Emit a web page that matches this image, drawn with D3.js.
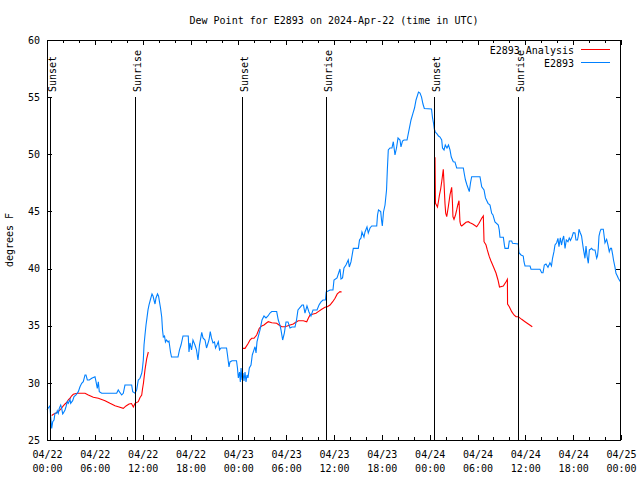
<!DOCTYPE html>
<html>
<head>
<meta charset="utf-8">
<script src="https://cdn.jsdelivr.net/npm/d3@7"></script>
<style>
  html, body { margin: 0; padding: 0; background: #fff; }
  svg { display: block; }
  text { font-family: "DejaVu Sans Mono", "Liberation Mono", monospace; font-size: 10px; fill: #000; }
</style>
</head>
<body>
<svg id="chart" width="640" height="480"></svg>
<script>
// ---- Data (hours after 2024-04-22 00:00 UTC, dew point in °F) ----
const chartTitle = "Dew Point for E2893 on 2024-Apr-22 (time in UTC)";
const yLabel = "degrees F";
const seriesNames = ["E2893 Analysis", "E2893"];
const yTicks = [25, 30, 35, 40, 45, 50, 55, 60];
const sunLabels = ["Sunset", "Sunrise", "Sunset", "Sunrise", "Sunset", "Sunrise"];
const sunHours = [0.38, 11.08, 24.5, 35.03, 48.58, 59.12];

const observed = [[0.00,27.63],[0.16,27.8],[0.38,28.0],[0.46,27.04],[0.59,26.02],[0.72,26.6],[0.88,26.75],[1.00,27.34],[1.22,27.34],[1.29,27.56],[1.42,27.34],[1.54,27.77],[1.72,28.06],[1.84,27.77],[1.97,27.28],[2.04,27.34],[2.26,27.63],[2.38,27.91],[2.55,28.35],[2.67,28.21],[2.89,28.56],[2.97,28.21],[3.22,28.44],[3.39,28.79],[3.64,28.94],[3.93,29.23],[4.14,29.66],[4.35,29.96],[4.55,30.1],[4.77,30.69],[4.89,30.69],[5.06,30.25],[5.31,30.25],[5.61,30.4],[6.02,30.54],[6.15,30.1],[6.31,29.52],[6.44,30.1],[6.56,29.23],[6.86,29.09],[8.74,29.09],[8.94,29.38],[9.16,29.14],[9.37,28.94],[9.57,29.09],[9.78,29.81],[10.62,29.81],[10.75,29.23],[11.04,29.09],[11.25,29.38],[11.45,30.25],[11.67,30.4],[11.88,30.84],[11.95,31.13],[12.08,32.0],[12.17,33.31],[12.29,34.19],[12.42,35.06],[12.54,35.68],[12.67,36.38],[12.79,36.81],[12.96,37.25],[13.17,37.78],[13.3,37.6],[13.42,37.25],[13.55,36.9],[13.67,37.43],[13.86,37.78],[13.99,37.6],[14.11,37.08],[14.24,36.55],[14.39,35.76],[14.49,34.63],[14.59,34.01],[14.74,34.1],[14.86,33.58],[14.99,33.75],[15.18,33.58],[15.3,33.66],[15.49,32.7],[15.62,32.26],[16.43,32.26],[16.62,32.88],[16.81,33.31],[17.06,34.1],[17.72,34.1],[17.81,32.7],[17.94,33.49],[18.13,32.88],[18.31,33.75],[18.56,33.31],[18.75,32.88],[18.94,32.0],[19.13,33.31],[19.41,34.41],[19.57,33.93],[19.82,33.75],[20.01,33.05],[20.13,33.31],[20.32,33.75],[20.48,34.48],[20.63,33.93],[20.82,33.49],[21.01,33.58],[21.14,33.05],[21.32,33.31],[21.49,33.6],[21.64,32.88],[21.83,33.05],[22.52,33.05],[22.64,32.44],[22.83,31.39],[22.95,31.83],[23.21,31.94],[23.77,31.94],[23.89,31.3],[24.0,30.43],[24.15,30.95],[24.25,30.08],[24.34,31.3],[24.46,30.25],[24.59,30.86],[24.71,30.16],[24.84,30.95],[24.96,30.08],[25.09,30.69],[25.21,30.43],[25.38,31.3],[25.59,31.56],[25.75,32.44],[25.96,32.88],[26.09,33.16],[26.22,32.61],[26.34,33.58],[26.5,34.04],[26.72,34.63],[26.84,35.06],[26.97,35.5],[27.22,35.85],[27.47,35.68],[27.72,35.85],[27.97,36.11],[28.19,36.24],[28.81,36.24],[29.01,35.5],[29.22,35.06],[29.35,34.63],[29.56,33.75],[29.77,34.36],[29.98,35.33],[30.23,35.33],[30.48,34.8],[30.73,34.89],[31.11,34.89],[31.3,35.5],[31.48,36.38],[31.99,36.81],[32.17,36.81],[32.36,36.11],[32.61,36.73],[32.86,36.2],[33.11,35.85],[33.37,36.38],[33.87,36.38],[34.12,36.81],[34.37,37.08],[34.62,37.25],[34.93,37.25],[35.02,37.95],[35.5,38.13],[35.87,38.13],[36.0,39.0],[36.38,39.18],[36.75,39.96],[36.88,39.09],[37.07,39.18],[37.25,40.05],[37.5,40.31],[37.79,40.75],[37.92,40.14],[38.13,40.58],[38.42,41.77],[39.05,41.77],[39.2,42.5],[39.39,42.68],[39.51,43.2],[39.76,42.76],[39.89,43.2],[40.14,43.64],[40.3,43.11],[40.52,43.55],[40.73,43.73],[41.36,43.73],[41.46,44.69],[41.58,45.13],[41.86,44.98],[41.96,44.25],[42.06,43.73],[42.21,44.95],[42.4,45.56],[42.59,46.88],[42.69,48.63],[42.81,50.38],[43.02,50.55],[43.27,50.55],[43.44,51.1],[43.65,49.94],[43.84,50.55],[44.03,51.43],[44.28,51.25],[44.4,50.64],[44.59,51.16],[44.78,51.25],[45.16,51.25],[45.45,52.27],[45.66,53.0],[45.91,53.61],[46.1,54.05],[46.29,54.75],[46.6,55.45],[46.79,55.36],[46.98,55.01],[47.16,54.4],[47.33,54.01],[48.23,53.96],[48.36,53.18],[48.48,52.74],[48.58,52.21],[48.71,51.95],[48.92,51.78],[49.11,51.6],[49.3,51.51],[49.51,51.25],[49.61,50.55],[49.8,50.38],[49.96,50.81],[50.17,50.55],[50.36,50.81],[50.55,50.38],[50.71,49.76],[50.96,49.35],[51.17,49.33],[51.39,48.8],[52.22,48.8],[52.37,48.19],[52.49,47.75],[52.68,47.31],[52.97,46.73],[53.12,47.49],[53.27,48.04],[54.31,48.04],[54.53,47.16],[54.82,46.88],[55.0,46.18],[55.32,45.71],[55.57,45.56],[55.78,44.84],[55.94,44.69],[56.19,44.08],[56.61,43.81],[56.73,43.38],[56.82,42.74],[57.24,42.74],[57.39,41.98],[57.45,41.77],[57.86,41.77],[57.99,42.41],[58.29,42.41],[58.39,42.21],[59.12,42.15],[59.2,41.39],[59.46,41.19],[59.74,41.1],[59.83,40.6],[59.96,40.23],[60.59,40.23],[60.71,39.94],[61.84,39.94],[62.05,39.64],[62.22,39.64],[62.38,40.31],[62.59,40.4],[62.84,40.11],[63.09,40.51],[63.28,40.23],[63.41,40.9],[63.59,41.48],[63.72,42.06],[63.93,42.26],[64.09,42.65],[64.22,41.91],[64.39,42.68],[64.54,42.06],[64.66,42.5],[64.81,42.85],[64.98,41.77],[65.14,42.5],[65.35,42.35],[65.51,42.68],[65.66,42.46],[65.85,42.76],[66.02,43.14],[66.23,43.11],[66.35,42.5],[66.54,42.5],[66.64,42.85],[66.73,43.44],[66.9,43.11],[67.05,42.85],[67.27,41.77],[67.48,40.9],[67.61,41.98],[67.74,41.1],[67.9,40.46],[68.03,41.63],[68.17,41.69],[68.3,41.77],[68.49,41.63],[68.74,41.63],[68.95,40.9],[69.05,41.1],[69.15,41.77],[69.24,42.85],[69.37,43.23],[69.49,43.44],[69.78,43.44],[69.87,42.94],[69.99,42.26],[70.2,42.56],[70.37,42.06],[70.53,41.48],[70.68,41.77],[70.81,41.77],[70.96,41.19],[71.06,40.75],[71.25,40.11],[71.37,39.59],[71.54,39.35],[71.66,39.15],[71.79,39.0],[71.94,38.83]];

const analysisNight1 = [[0.59,27.13],[0.75,27.23],[1.07,27.34],[1.42,27.49],[1.63,27.63],[1.84,27.8],[2.04,27.98],[2.26,28.15],[2.47,28.28],[2.7,28.54],[2.89,28.65],[3.07,28.85],[3.3,29.0],[3.64,29.07],[3.93,29.09],[4.77,29.09],[5.18,28.94],[5.81,28.74],[6.44,28.65],[7.28,28.44],[7.9,28.21],[8.53,28.0],[8.94,27.91],[9.57,27.77],[9.91,27.98],[10.29,28.15],[10.6,28.19],[10.83,27.89],[11.04,28.21],[11.45,28.35],[11.67,28.72],[11.88,28.94],[11.98,29.46],[12.1,29.99],[12.29,31.13],[12.5,32.09],[12.71,32.7]];
const analysisNight2 = [[24.55,33.02],[24.84,33.02],[25.25,33.46],[25.46,33.75],[25.68,33.9],[25.97,33.9],[26.3,34.19],[26.63,34.77],[26.93,34.98],[27.22,35.06],[27.56,35.26],[27.76,35.35],[28.19,35.26],[28.81,35.21],[29.1,35.06],[29.44,34.91],[29.85,34.91],[30.14,34.98],[30.48,35.06],[30.9,35.15],[31.11,35.26],[31.52,35.44],[32.15,35.44],[32.58,35.35],[32.78,35.65],[32.99,35.94],[33.4,36.03],[33.74,36.09],[34.03,36.23],[34.46,36.44],[34.87,36.61],[35.16,36.66],[35.5,36.81],[35.84,37.1],[36.13,37.4],[36.41,37.78],[36.75,37.98],[36.96,37.95]];
const analysisNight3 = [[48.67,49.74],[48.73,45.71],[48.88,45.52],[48.98,45.39],[49.11,45.91],[49.23,46.44],[49.38,46.96],[49.51,47.6],[49.71,48.69],[49.8,47.46],[49.92,45.71],[50.01,44.84],[50.14,44.54],[50.34,45.41],[50.55,46.44],[50.76,47.11],[50.86,45.74],[50.92,44.54],[51.05,44.31],[51.24,44.69],[51.39,45.13],[51.52,45.56],[51.68,45.94],[51.8,44.1],[51.89,43.81],[52.02,43.73],[52.31,43.9],[52.56,44.05],[52.85,44.1],[53.06,44.01],[53.4,43.9],[53.9,43.66],[54.19,43.96],[54.53,44.4],[54.73,44.6],[54.82,42.35],[55.07,42.06],[55.23,41.63],[55.48,41.04],[55.69,40.66],[56.01,40.14],[56.32,39.61],[56.57,39.0],[56.76,38.39],[57.24,38.48],[57.58,38.85],[57.75,39.06],[57.77,36.9],[57.99,36.66],[58.29,36.23],[58.58,35.94],[58.83,35.79],[59.12,35.79],[59.54,35.56],[59.96,35.35],[60.37,35.15],[60.87,34.91]];

const analysisSegments = [analysisNight1, analysisNight2, analysisNight3];
const colors = { analysis: "#ff0000", observed: "#0080ff" };

// ---- Drawing ----
const base = Date.UTC(2024, 3, 22);
const toDate = h => new Date(base + h * 3600000);
const svg = d3.select("#chart");
const L = 47, R = 621, T = 40, B = 440;

const x = d3.scaleUtc().domain([toDate(0), toDate(72)]).range([L, R]);
const y = d3.scaleLinear().domain([25, 60]).range([B, T]);

// Title
svg.append("text").attr("x", 334).attr("y", 24).attr("text-anchor", "middle").text(chartTitle);
// Y label
svg.append("text").attr("transform", "translate(13,240) rotate(-90)").attr("text-anchor", "middle").text(yLabel);

// Axes
const fmtDay = d3.utcFormat("%m/%d"), fmtTime = d3.utcFormat("%H:%M");
const bottom = svg.append("g").attr("transform", `translate(0,${B})`)
  .call(d3.axisBottom(x).ticks(d3.utcHour.every(6)).tickSizeInner(-5).tickSizeOuter(0).tickPadding(0));
bottom.selectAll(".tick text").each(function(d) {
  const t = d3.select(this).text("").attr("y", null).attr("dy", null);
  t.append("tspan").attr("x", 0).attr("y", 18).text(fmtDay(d));
  t.append("tspan").attr("x", 0).attr("y", 32).text(fmtTime(d));
});
svg.append("g").attr("transform", `translate(0,${B})`)
  .call(d3.axisBottom(x).ticks(d3.utcHour.every(2)).tickSizeInner(-3).tickSizeOuter(0).tickFormat(""));
svg.append("g").attr("transform", `translate(0,${T})`)
  .call(d3.axisTop(x).ticks(d3.utcHour.every(6)).tickSizeInner(-5).tickSizeOuter(0).tickFormat(""));
svg.append("g").attr("transform", `translate(0,${T})`)
  .call(d3.axisTop(x).ticks(d3.utcHour.every(2)).tickSizeInner(-3).tickSizeOuter(0).tickFormat(""));
svg.append("g").attr("transform", `translate(${L},0)`)
  .call(d3.axisLeft(y).tickValues(yTicks).tickSizeInner(-5).tickSizeOuter(0).tickPadding(7));
svg.append("g").attr("transform", `translate(${R},0)`)
  .call(d3.axisRight(y).tickValues(yTicks).tickSizeInner(-5).tickSizeOuter(0).tickFormat(""));
svg.selectAll(".domain").remove();
svg.selectAll(".tick line").attr("stroke", "#000").attr("shape-rendering", "crispEdges");
svg.selectAll(".tick text").attr("font-family", null).attr("font-size", null);
svg.selectAll("g").attr("font-family", null).attr("font-size", null);

// Data lines
const line = d3.line().x(d => x(toDate(d[0]))).y(d => y(d[1]));
analysisSegments.forEach(seg => {
  svg.append("path").datum(seg).attr("d", line)
    .attr("fill", "none").attr("stroke", colors.analysis).attr("stroke-width", 1.1);
});
svg.append("path").datum(observed).attr("d", line)
  .attr("fill", "none").attr("stroke", colors.observed).attr("stroke-width", 1.1);

// Sunrise / sunset markers
sunHours.forEach((h, i) => {
  const xx = Math.round(x(toDate(h))) + 0.5;
  svg.append("line").attr("x1", xx).attr("x2", xx).attr("y1", 97).attr("y2", B)
    .attr("stroke", "#000").attr("stroke-width", 1);
  svg.append("text").attr("transform", `translate(${xx + 1.5},92) rotate(-90)`)
    .attr("dy", "0.35em").text(sunLabels[i]);
});

// Border
svg.append("rect").attr("x", L + 0.5).attr("y", T + 0.5).attr("width", R - L - 1).attr("height", B - T)
  .attr("fill", "none").attr("stroke", "#000").attr("shape-rendering", "crispEdges");

// Legend
const legend = [{ name: seriesNames[0], color: colors.analysis, yy: 50 }, { name: seriesNames[1], color: colors.observed, yy: 63 }];
legend.forEach(l => {
  svg.append("text").attr("x", 574).attr("y", l.yy).attr("dy", "0.35em").attr("text-anchor", "end").text(l.name);
  svg.append("line").attr("x1", 581).attr("x2", 610).attr("y1", l.yy - 0.5).attr("y2", l.yy - 0.5)
    .attr("stroke", l.color).attr("stroke-width", 1);
});
</script>
</body>
</html>
